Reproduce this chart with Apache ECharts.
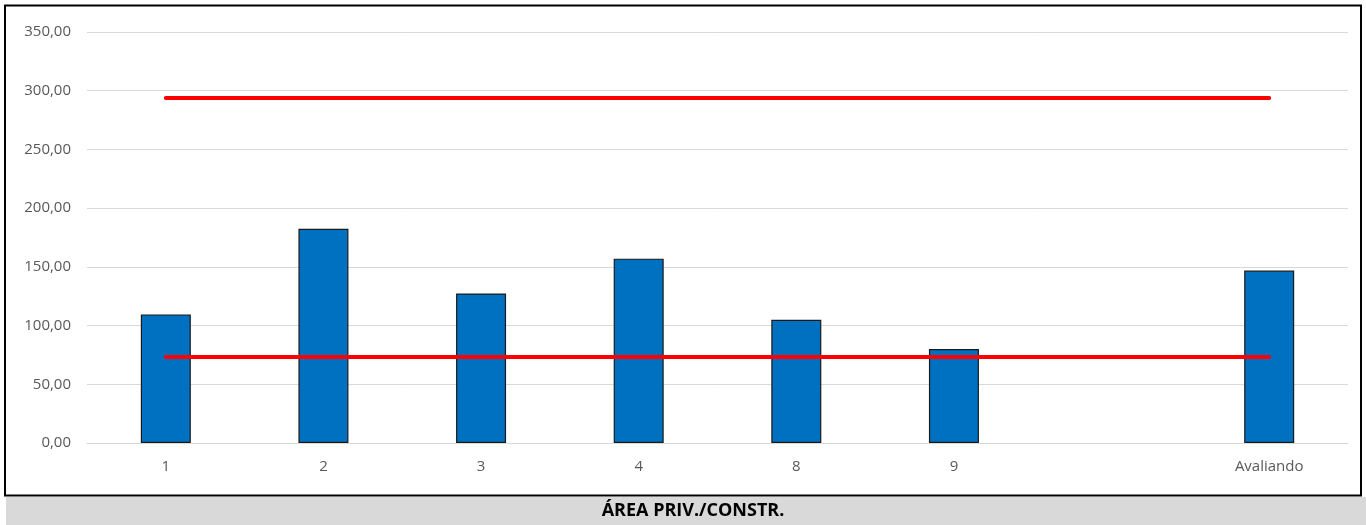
<!DOCTYPE html>
<html>
<head>
<meta charset="utf-8">
<script src="https://cdn.jsdelivr.net/npm/echarts@6/dist/echarts.min.js"></script>
<style>
html,body{margin:0;padding:0;background:#fff;}
#c{width:1366px;height:525px;}
</style>
</head>
<body>
<div id="c"></div>
<script>
const categories = ['1', '2', '3', '4', '8', '9', '', 'Avaliando'];
const barValues = [109.5, 182.5, 127.3, 157, 105, 80, null, 146.8];
const upperLimit = [293.9, 293.9, 293.9, 293.9, 293.9, 293.9, 293.9, 293.9];
const lowerLimit = [73.3, 73.3, 73.3, 73.3, 73.3, 73.3, 73.3, 73.3];
const yTicks = { min: 0, max: 350, interval: 50 };
const footerTitle = 'ÁREA PRIV./CONSTR.';

const chart = echarts.init(document.getElementById('c'));
chart.setOption({
  animation: false,
  grid: { left: 87, right: 18, top: 32, bottom: 82, containLabel: false },
  graphic: [
    { type: 'rect', shape: { x: 5, y: 5.5, width: 1356, height: 490 }, style: { fill: 'none', stroke: '#000', lineWidth: 2 }, z: 100 },
    { type: 'rect', shape: { x: 6, y: 497, width: 1360, height: 28 }, style: { fill: '#d9d9d9' }, z: 99 },
    { type: 'text', x: 693, y: 511, style: { text: footerTitle, fontFamily: 'Open Sans', fontWeight: 'bold', fontSize: 18, fill: '#000', textAlign: 'center', textVerticalAlign: 'middle' }, z: 101 }
  ],
  xAxis: {
    type: 'category',
    data: categories,
    axisLine: { show: true, lineStyle: { color: '#d9d9d9', width: 1 } },
    axisTick: { show: false },
    axisLabel: { color: '#595959', fontSize: 15, fontFamily: 'Open Sans', margin: 16 }
  },
  yAxis: {
    type: 'value',
    min: yTicks.min, max: yTicks.max, interval: yTicks.interval,
    axisLine: { show: false },
    axisTick: { show: false },
    splitLine: { lineStyle: { color: '#d9d9d9', width: 1 } },
    axisLabel: {
      color: '#595959', fontSize: 15, fontFamily: 'Open Sans', margin: 16,
      formatter: v => v.toFixed(2).replace('.', ',')
    }
  },
  series: [
    {
      type: 'bar', data: barValues, barWidth: 50,
      itemStyle: { color: '#0070c0', borderColor: '#1a1a1a', borderWidth: 1.2 }
    },
    {
      type: 'line', data: upperLimit, symbol: 'none',
      lineStyle: { color: '#ff0000', width: 4, cap: 'round' }, z: 5
    },
    {
      type: 'line', data: lowerLimit, symbol: 'none',
      lineStyle: { color: '#ff0000', width: 4, cap: 'round' }, z: 5
    }
  ]
});
</script>
</body>
</html>
